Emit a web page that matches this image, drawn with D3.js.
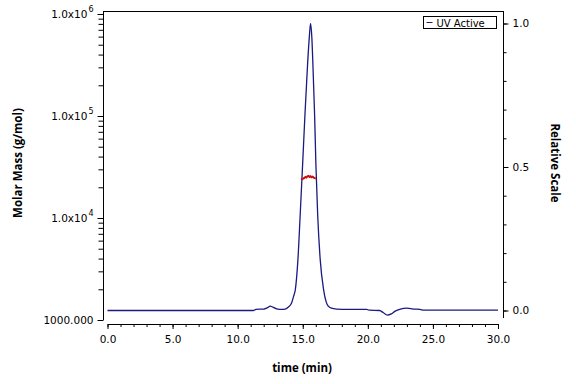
<!DOCTYPE html>
<html>
<head>
<meta charset="utf-8">
<script src="https://cdn.jsdelivr.net/npm/d3@7/dist/d3.min.js"></script>
<style>
  body { margin: 0; background: #fff; }
  svg { display: block; }
  .tick text { font-family: "DejaVu Sans", sans-serif; font-size: 10.5px; fill: #000; }
  .title { font-family: "Open Sans", sans-serif; font-weight: bold; font-size: 11.5px; }
</style>
</head>
<body>
<svg width="576" height="384"></svg>
<script>
// UV trace (relative scale)
var uvTime = [0, 11.2, 11.4, 12.0, 12.3, 12.5, 12.7, 13.0, 13.4, 13.7, 13.9, 14.15, 14.3, 14.43,
    14.63, 14.8, 14.99, 15.17, 15.37, 15.5, 15.6, 15.7, 15.78, 15.91, 16.01, 16.15, 16.34,
    16.6, 16.8, 16.96, 17.2, 17.6, 18.5, 19.9, 20.1, 20.9, 21.2, 21.5, 21.8, 22.1, 22.5,
    23.0, 23.5, 24.0, 24.3, 30.0];
var uvRel = [0, 0, 0.004, 0.005, 0.01, 0.015, 0.012, 0.006, 0.004, 0.006, 0.012, 0.027, 0.05, 0.073,
    0.178, 0.33, 0.509, 0.683, 0.857, 0.95, 1.0, 0.95, 0.857, 0.683, 0.509, 0.33, 0.178,
    0.073, 0.03, 0.015, 0.008, 0.005, 0.004, 0.004, 0.001, 0, -0.008, -0.016, -0.012, -0.002, 0.005,
    0.008, 0.005, 0.004, 0.001, 0.001];

// molar mass points across the peak
var mmTime = [14.88, 14.96, 15.04, 15.12, 15.2, 15.28, 15.36, 15.44, 15.52, 15.6, 15.68, 15.76, 15.84, 15.92, 16.0];
var mmMass = [23800, 24100, 24300, 24700, 25200, 24900, 25600, 25900, 25300, 25700, 25100, 25400, 24900, 24600, 24400];

var xTicks = [0, 5, 10, 15, 20, 25, 30];
var xTickLabels = ["0.0", "5.0", "10.0", "15.0", "20.0", "25.0", "30.0"];
var massTicks = [1000, 1e4, 1e5, 1e6];
var massTickBase = ["1000.000", "1.0x10", "1.0x10", "1.0x10"];
var massTickExp = ["", "4", "5", "6"];
var relTicks = [0, 0.5, 1.0];
var relTickLabels = ["0.0", "0.5", "1.0"];

var plotLeft = 103, plotRight = 503, plotTop = 11, plotBottom = 320, xAxisY = 324;

var svg = d3.select("svg");

var x = d3.scaleLinear().domain([0, 30]).range([107.5, 498]);
var yMass = d3.scaleLog().domain([1000, 1e6]).range([320, 14]);
var yRel = d3.scaleLinear().domain([0, 1]).range([310.5, 23.5]);

// frame
svg.append("line").attr("x1", plotLeft).attr("x2", plotRight).attr("y1", plotTop + 0.5).attr("y2", plotTop + 0.5)
    .attr("stroke", "#000");
svg.append("line").attr("x1", plotLeft + 0.5).attr("x2", plotLeft + 0.5).attr("y1", plotTop).attr("y2", plotBottom)
    .attr("stroke", "#000");
svg.append("line").attr("x1", plotRight + 0.5).attr("x2", plotRight + 0.5).attr("y1", plotTop).attr("y2", plotBottom - 2)
    .attr("stroke", "#000");

// x axis (detached)
var xMinor = d3.range(0, 31, 1);
svg.append("g").attr("transform", "translate(0," + xAxisY + ")")
    .call(d3.axisBottom(x).tickValues(xMinor).tickSize(3).tickFormat(""))
    .call(function (g) { g.select(".domain").remove(); });
svg.append("g").attr("transform", "translate(0," + xAxisY + ")")
    .call(d3.axisBottom(x).tickValues(xTicks).tickSize(5).tickSizeOuter(0).tickPadding(7)
        .tickFormat(function (d, i) { return xTickLabels[i]; }));

// left log axis
var massMinor = [];
[1000, 1e4, 1e5].forEach(function (dec) {
    for (var k = 2; k <= 9; k++) massMinor.push(dec * k);
});
var gl = svg.append("g").attr("transform", "translate(" + (plotLeft + 0.5) + ",0)");
gl.append("g").call(d3.axisLeft(yMass).tickValues(massMinor).tickSize(5).tickFormat(""))
    .call(function (g) { g.select(".domain").remove(); });
gl.append("g").call(d3.axisLeft(yMass).tickValues(massTicks).tickSize(6).tickPadding(4).tickFormat(""))
    .call(function (g) {
        g.select(".domain").remove();
        g.selectAll(".tick").each(function (d, i) {
            var t = d3.select(this).append("text")
                .attr("x", -10).attr("dy", "0.32em").attr("text-anchor", "end").attr("fill", "#000");
            t.append("tspan").text(massTickBase[i]);
            if (massTickExp[i]) {
                t.append("tspan").attr("dy", "-0.75em").attr("dx", "1").style("font-size", "8px").text(massTickExp[i]);
            }
        });
    });

// right relative axis
var gr = svg.append("g").attr("transform", "translate(" + (plotRight + 0.5) + ",0)");
gr.append("g").call(d3.axisRight(yRel).tickValues(d3.range(0, 1.01, 0.1)).tickSize(3).tickFormat(""))
    .call(function (g) { g.select(".domain").remove(); });
gr.append("g").call(d3.axisRight(yRel).tickValues(relTicks).tickSize(5).tickPadding(4)
        .tickFormat(function (d, i) { return relTickLabels[i]; }))
    .call(function (g) { g.select(".domain").remove(); });

// UV trace
var uvData = uvTime.map(function (t, i) { return [t, uvRel[i]]; });
svg.append("path").datum(uvData)
    .attr("fill", "none").attr("stroke", "#1a1a80").attr("stroke-width", 1.3)
    .attr("d", d3.line().x(function (d) { return x(d[0]); }).y(function (d) { return yRel(d[1]); })
        .curve(d3.curveMonotoneX));

// molar mass
var mmData = mmTime.map(function (t, i) { return [t, mmMass[i]]; });
svg.append("path").datum(mmData)
    .attr("fill", "none").attr("stroke", "#d01010").attr("stroke-width", 2)
    .attr("d", d3.line().x(function (d) { return x(d[0]); }).y(function (d) { return yMass(d[1]); }));

// titles
svg.append("text").attr("class", "title").attr("text-anchor", "middle")
    .attr("transform", "translate(22,163) rotate(-90)").text("Molar Mass (g/mol)");
svg.append("text").attr("class", "title").attr("text-anchor", "middle")
    .attr("transform", "translate(551,163) rotate(90)").text("Relative Scale");
svg.append("text").attr("class", "title").attr("text-anchor", "middle")
    .attr("x", 302).attr("y", 372).text("time (min)");

// legend
var leg = svg.append("g").attr("transform", "translate(423.5,16.5)");
leg.append("rect").attr("width", 73).attr("height", 12).attr("fill", "#fff").attr("stroke", "#000");
leg.append("line").attr("x1", 3).attr("x2", 9).attr("y1", 6).attr("y2", 6).attr("stroke", "#1a1a80");
leg.append("text").attr("x", 13).attr("y", 10).style("font-family", "DejaVu Sans, sans-serif")
    .style("font-size", "10px").text("UV Active");
</script>
</body>
</html>
